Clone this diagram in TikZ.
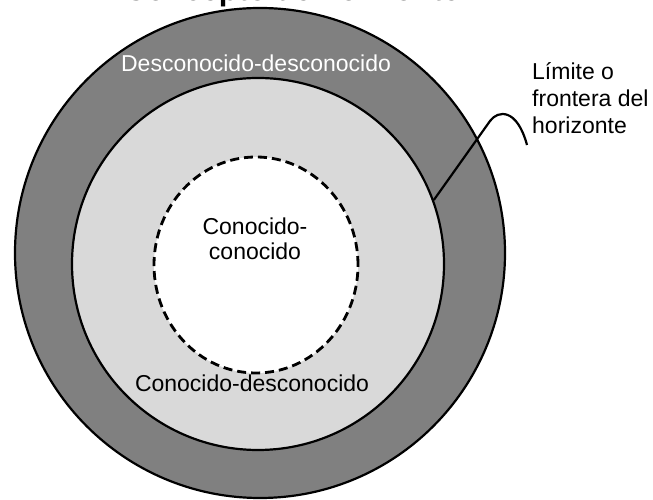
\documentclass[tikz,border=0pt]{standalone}
\usepackage{fontspec}
\setmainfont{Liberation Sans}
\usetikzlibrary{shapes.geometric}
\definecolor{grisoscuro}{RGB}{128,128,128}
\definecolor{grisclaro}{RGB}{217,217,217}
\begin{document}
\begin{tikzpicture}[x=1pt,y=1pt,
        zona/.style={draw, line width=2.2pt, inner sep=0pt},
        etiqueta/.style={font=\fontsize{23}{25}\selectfont, inner sep=0pt}]
        % Marco de la figura
        \useasboundingbox (0,0) rectangle (653,500);
        \clip (0,0) rectangle (653,500);
        \fill[white] (0,0) rectangle (653,500);
        % Titulo (cortado arriba)
        \node[font=\bfseries\fontsize{31}{36}\selectfont, anchor=base, inner sep=0pt] (titulo) at (292,499.4) {Concepto de horizonte};
        % Zonas del horizonte
        \node[zona, circle, fill=grisoscuro, minimum size=490pt] (desconocido) at (260,247) {};
        \node[zona, circle, fill=grisclaro, minimum size=372pt] (horizonte) at (258,236) {};
        \node[zona, ellipse, fill=white, line width=2.8pt, dash pattern=on 9pt off 5pt, minimum width=204pt, minimum height=216pt] (conocido) at (256,235) {};
        % Textos
        \node[etiqueta, text=white, anchor=base] (txtdd) at (256,428) {Desconocido-desconocido};
        \node[etiqueta, anchor=base] (txtcd) at (252,108) {Conocido-desconocido};
        \node[etiqueta, align=center, anchor=base] (txtcc) at (255,240) {Conocido-\\conocido};
        \node[etiqueta, font=\fontsize{23}{27}\selectfont, align=left, anchor=base west] (limite) at (532,366) {Límite o\\frontera del\\horizonte};
        % Linea hacia el limite
        \coordinate (punta) at (527,355);
        \draw[line width=2.2pt] (horizonte.20) -- (490,379) .. controls (498,390) and (517,392) .. (punta);
    \end{tikzpicture}
\end{document}
